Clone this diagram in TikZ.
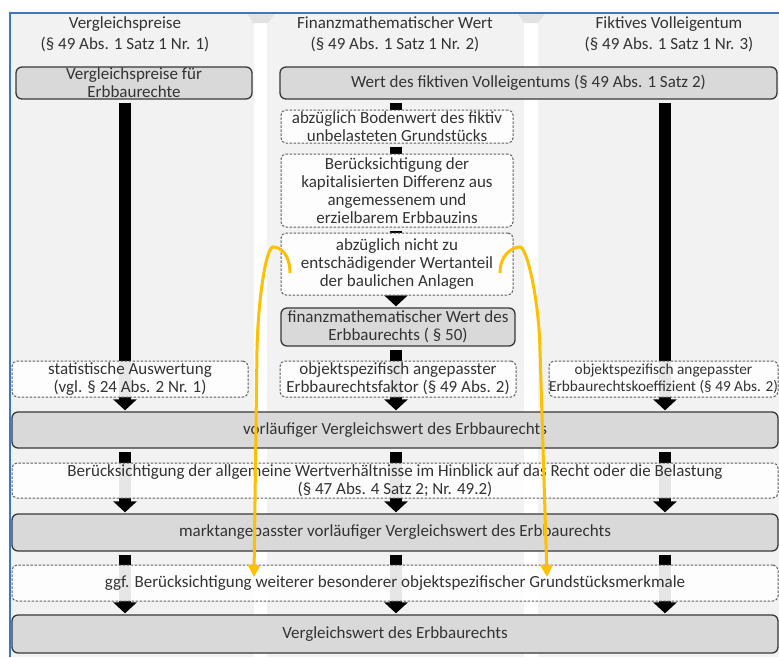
\documentclass[tikz,border=0pt]{standalone}
\usepackage{fontspec}
\setmainfont{Carlito}
\usetikzlibrary{arrows.meta}

\definecolor{boxgray}{HTML}{D9D9D9}
\definecolor{colgray}{HTML}{F2F2F2}
\definecolor{tabgray}{HTML}{E2E2E2}
\definecolor{edgegray}{HTML}{383838}
\definecolor{dashgray}{HTML}{5F5F5F}
\definecolor{textgray}{HTML}{333333}
\definecolor{framblue}{HTML}{4472C4}
\definecolor{hintyellow}{HTML}{FFC000}

\pgfdeclarelayer{bg}
\pgfdeclarelayer{flow}
\pgfsetlayers{bg,flow,main}

\begin{document}
\begin{tikzpicture}[x=1pt,y=-1pt,
    font=\fontsize{17}{18}\selectfont,
    every node/.style={text=textgray},
    head/.style={align=center,font=\fontsize{17}{21}\selectfont},
    gbox/.style={draw=edgegray,line width=1.3pt,fill=boxgray,rounded corners=6pt,align=center,inner sep=0pt},
    dbox/.style={draw=dashgray,line width=1pt,dash pattern=on 2.5pt off 1.5pt,fill=white,fill opacity=0.9,text opacity=1,rounded corners=5pt,align=center,inner sep=0pt},
    flow/.style={line width=12pt,shorten <=3pt},
    flowtip/.style={flow,-{Triangle[width=23pt,length=11pt]},shorten >=1pt},
    hint/.style={draw=hintyellow,line width=3pt,-{Triangle[width=12pt,length=12pt]}}]
  \useasboundingbox (0,0) rectangle (779,657);

  % columns
  \begin{pgfonlayer}{bg}
    \fill[colgray] (10,13) rectangle (779,657);
    \fill[white] (254,23) rectangle (267,657);
    \fill[white] (524,23) rectangle (538,657);
    \fill[tabgray] (248,14) -- (275,14) -- (268,23) -- (253,23) -- cycle;
    \fill[tabgray] (518,14) -- (545,14) -- (538,23) -- (524,23) -- cycle;
    \draw[framblue,line width=1.8pt] (10,657) -- (10,13) -- (779,13);
  \end{pgfonlayer}

  \coordinate (c1) at (125,0);
  \coordinate (c2) at (396,0);
  \coordinate (c3) at (665,0);

  \node[head] (hd1) at (125,34.5) {Vergleichspreise\\(§ 49 Abs. 1 Satz 1 Nr. 1)};
  \node[head] (hd2) at (395,34.5) {Finanzmathematischer Wert\\(§ 49 Abs. 1 Satz 1 Nr. 2)};
  \node[head] (hd3) at (669,34.5) {Fiktives Volleigentum\\(§ 49 Abs. 1 Satz 1 Nr. 3)};

  \node[gbox,minimum width=236pt,minimum height=32pt] (vgp) at (134,83) {Vergleichspreise für\\Erbbaurechte};
  \node[gbox,minimum width=497pt,minimum height=32pt] (wfv) at (528.5,83) {Wert des fiktiven Volleigentums (§ 49 Abs. 1 Satz 2)};

  \node[dbox,minimum width=232pt,minimum height=33pt] (abz1) at (397,126.5) {abzüglich Bodenwert des fiktiv\\unbelasteten Grundstücks};
  \node[dbox,minimum width=232pt,minimum height=73pt] (ber) at (397,190.5) {Berücksichtigung der\\kapitalisierten Differenz aus\\angemessenem und\\erzielbarem Erbbauzins};
  \node[dbox,minimum width=232pt,minimum height=62pt] (abz2) at (397,264) {abzüglich nicht zu\\entschädigender Wertanteil\\der baulichen Anlagen};
  \node[gbox,minimum width=234pt,minimum height=38pt] (fmw) at (398,327) {finanzmathematischer Wert des\\Erbbaurechts ( § 50)};

  \node[dbox,minimum width=236pt,minimum height=36pt] (stat) at (130,379) {statistische Auswertung\\(vgl. § 24 Abs. 2 Nr. 1)};
  \node[dbox,minimum width=236pt,minimum height=36pt] (efak) at (398,379) {objektspezifisch angepasster\\Erbbaurechtsfaktor (§ 49 Abs. 2)};
  \node[dbox,minimum width=229pt,minimum height=36pt,font=\fontsize{15.3}{17}\selectfont] (ekoef) at (663.5,379) {objektspezifisch angepasster\\Erbbaurechtskoeffizient (§ 49 Abs. 2)};

  \node[gbox,minimum width=766pt,minimum height=36pt] (vorl) at (395,430) {vorläufiger Vergleichswert des Erbbaurechts};
  \node[dbox,minimum width=766pt,minimum height=35pt] (allg) at (395,480.5) {Berücksichtigung der allgemeine Wertverhältnisse im Hinblick auf das Recht oder die Belastung\\(§ 47 Abs. 4 Satz 2; Nr. 49.2)};
  \node[gbox,minimum width=766pt,minimum height=37pt] (markt) at (395,532.5) {marktangepasster vorläufiger Vergleichswert des Erbbaurechts};
  \node[dbox,minimum width=766pt,minimum height=36pt] (ggf) at (395,583) {ggf. Berücksichtigung weiterer besonderer objektspezifischer Grundstücksmerkmale};
  \node[gbox,minimum width=766pt,minimum height=38pt] (vgw) at (395,634) {Vergleichswert des Erbbaurechts};

  % black flow
  \begin{pgfonlayer}{flow}
    \draw[flowtip] (c1 |- vgp.south) -- (c1 |- vorl.north);
    \draw[flowtip] (c3 |- wfv.south) -- (c3 |- vorl.north);
    \draw[flow] (c2 |- wfv.south) -- (c2 |- abz1.north);
    \draw[flow] (c2 |- abz1.south) -- (c2 |- ber.north);
    \draw[flow] (c2 |- ber.south) -- (c2 |- abz2.north);
    \draw[flowtip] (c2 |- abz2.south) -- (c2 |- fmw.north);
    \draw[flowtip] (c2 |- fmw.south) -- (c2 |- vorl.north);
    \foreach \c in {c1,c2,c3} {
      \draw[flowtip] (\c |- vorl.south) -- (\c |- markt.north);
      \draw[flowtip] (\c |- markt.south) -- (\c |- vgw.north);
    }
  \end{pgfonlayer}

  % yellow hints
  \coordinate (ls) at (290,273);
  \coordinate (lp) at (273,247);
  \coordinate (lm) at (257,350);
  \coordinate (le) at (254,577);
  \coordinate (rs) at (500,273);
  \coordinate (rp) at (520,247);
  \coordinate (rm) at (540,350);
  \coordinate (re) at (547,577);
  \draw[hint] (ls) .. controls +(0,-18) and +(8,0) .. (lp) .. controls +(-7,0) and +(1,-50) .. (lm) -- (le);
  \draw[hint] (rs) .. controls +(0,-18) and +(-8,0) .. (rp) .. controls +(7,0) and +(-1,-50) .. (rm) -- (re);
\end{tikzpicture}
\end{document}
